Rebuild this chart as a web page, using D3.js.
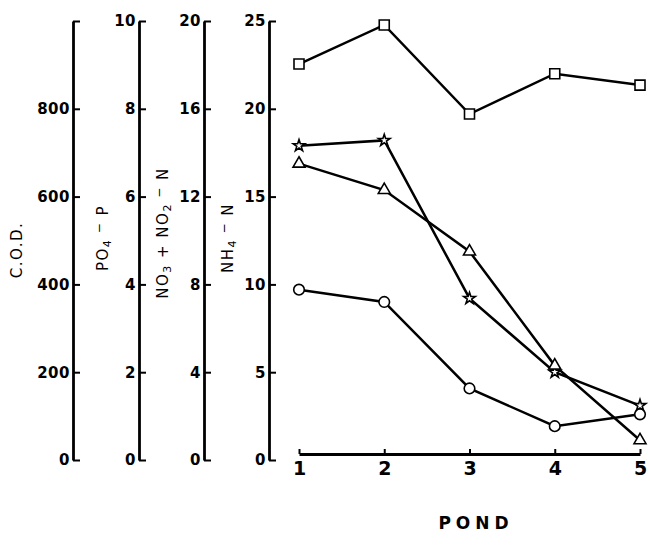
<!DOCTYPE html>
<html>
<head>
<meta charset="utf-8">
<script src="https://cdn.jsdelivr.net/npm/d3@7"></script>
<style>
  body { margin: 0; background: #fff; }
  svg { display: block; }
  .tick text { font-family: "DejaVu Sans", sans-serif; }
</style>
</head>
<body>
<svg id="chart"></svg>
<script>
// values
const ponds = [1, 2, 3, 4, 5];
const cod = [902, 991, 788, 880, 854];        // squares
const po4 = [3.88, 3.6, 1.63, 0.77, 1.04];    // circles
const no3no2 = [13.5, 12.3, 9.5, 4.3, 0.9];   // triangles
const nh4 = [17.9, 18.2, 9.2, 5.0, 3.1];      // stars

const codTicks = [0, 200, 400, 600, 800, 1000];
const po4Ticks = [0, 2, 4, 6, 8, 10];
const no3Ticks = [0, 4, 8, 12, 16, 20];
const nh4Ticks = [0, 5, 10, 15, 20, 25];

const width = 650, height = 545;
const yBottom = 460, yTop = 21;

const svg = d3.select('#chart')
    .attr('width', width)
    .attr('height', height);

svg.append('rect').attr('width', width).attr('height', height).attr('fill', '#fff');

const x = d3.scaleLinear().domain([1, 5]).range([299, 640]);

const yCod = d3.scaleLinear().domain([0, 1000]).range([yBottom, yTop]);
const yPo4 = d3.scaleLinear().domain([0, 10]).range([yBottom, yTop]);
const yNo3 = d3.scaleLinear().domain([0, 20]).range([yBottom, yTop]);
const yNh4 = d3.scaleLinear().domain([0, 25]).range([yBottom, yTop]);

// the four stacked left axes
const axes = [
  { scale: yCod, ticks: codTicks, x: 73, fmt: d => d === 1000 ? '' : d },
  { scale: yPo4, ticks: po4Ticks, x: 139, fmt: d => d },
  { scale: yNo3, ticks: no3Ticks, x: 204, fmt: d => d },
  { scale: yNh4, ticks: nh4Ticks, x: 269, fmt: d => d }
];

axes.forEach(a => {
  const g = svg.append('g')
      .attr('transform', `translate(${a.x},0)`)
      .call(d3.axisLeft(a.scale)
        .tickValues(a.ticks)
        .tickFormat(a.fmt)
        .tickSizeInner(-7)
        .tickSizeOuter(0)
        .tickPadding(3));
  g.select('.domain').attr('stroke', '#000').attr('stroke-width', 2.8);
  g.selectAll('.tick line').attr('stroke', '#000').attr('stroke-width', 2);
  g.selectAll('.tick text')
      .attr('font-size', 15)
      .attr('font-weight', 'bold')
      .attr('letter-spacing', 0.5)
      .attr('fill', '#000');
});

// x axis
const xg = svg.append('g')
    .attr('transform', 'translate(0,454)')
    .call(d3.axisBottom(x)
      .tickValues(ponds)
      .tickFormat(d3.format('d'))
      .tickSizeInner(-5)
      .tickSizeOuter(0)
      .tickPadding(8));
xg.select('.domain').attr('stroke', '#000').attr('stroke-width', 2.8);
xg.selectAll('.tick line').attr('stroke', '#000').attr('stroke-width', 2);
xg.selectAll('.tick text')
    .attr('font-family', '"Liberation Sans", Arial, sans-serif')
    .attr('font-size', 19)
    .attr('font-weight', 'bold')
    .attr('fill', '#000');

// axis titles (rotated)
function vlabel(cx, cy, parts) {
  const t = svg.append('text')
      .attr('transform', `translate(${cx},${cy}) rotate(-90)`)
      .attr('text-anchor', 'middle')
      .attr('dy', '0.35em')
      .attr('font-family', '"DejaVu Sans", sans-serif')
      .attr('font-size', 15)
      .attr('letter-spacing', 1.5)
      .attr('fill', '#000');
  parts.forEach(p => {
    const s = t.append('tspan').text(p.t);
    if (p.sub) s.attr('baseline-shift', '-30%').attr('font-size', 11);
    if (p.sup) s.attr('baseline-shift', '45%').attr('font-size', 12);
  });
}

vlabel(17, 250, [{ t: 'C.O.D.' }]);
vlabel(103, 238, [{ t: 'PO' }, { t: '4', sub: true }, { t: ' \u2212', sup: true }, { t: ' P' }]);
vlabel(163, 233, [{ t: 'NO' }, { t: '3', sub: true }, { t: ' + NO' }, { t: '2', sub: true }, { t: ' \u2212', sup: true }, { t: ' N' }]);
vlabel(228, 238, [{ t: 'NH' }, { t: '4', sub: true }, { t: ' \u2212', sup: true }, { t: ' N' }]);

svg.append('text')
    .attr('x', 476)
    .attr('y', 529)
    .attr('text-anchor', 'middle')
    .attr('font-family', '"DejaVu Sans", sans-serif')
    .attr('font-size', 17)
    .attr('font-weight', 'bold')
    .attr('letter-spacing', 5)
    .attr('fill', '#000')
    .text('POND');

// series
const series = [
  { values: cod, scale: yCod, symbol: d3.symbolSquare, size: 100 },
  { values: nh4, scale: yNh4, symbol: d3.symbolStar, size: 42 },
  { values: no3no2, scale: yNo3, symbol: d3.symbolTriangle, size: 62 },
  { values: po4, scale: yPo4, symbol: d3.symbolCircle, size: 88 }
];

const line = d3.line()
    .x(d => x(d.pond))
    .y(d => d.y);

series.forEach(s => {
  const pts = s.values.map((v, i) => ({ pond: ponds[i], y: s.scale(v) }));
  svg.append('path')
      .attr('d', line(pts))
      .attr('fill', 'none')
      .attr('stroke', '#000')
      .attr('stroke-width', 2.5);
  svg.selectAll(null)
      .data(pts)
      .join('path')
      .attr('transform', d => `translate(${x(d.pond)},${d.y})`)
      .attr('d', d3.symbol().type(s.symbol).size(s.size))
      .attr('fill', '#fff')
      .attr('stroke', '#000')
      .attr('stroke-width', 1.6);
});
</script>
</body>
</html>
